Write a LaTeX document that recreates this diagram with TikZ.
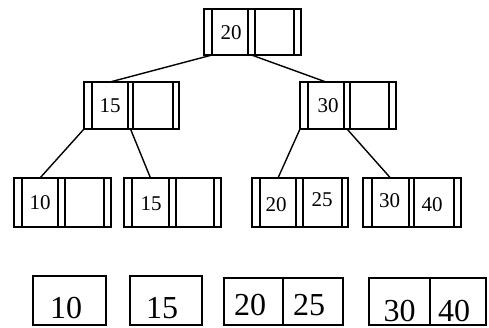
\documentclass[tikz,border=0pt]{standalone}
\usepackage{fontspec}
\setmainfont{Liberation Serif}
\newcommand\cellbox[5]{\node[cell, minimum width={(#3-#2)*1pt}, minimum height={(#5-#4)*1pt}] (#1) at (#2,#4) {};}
\newcommand\bnode[9]{%
  \cellbox{#1-p0}{#2}{#3}{#8}{#9}%
  \cellbox{#1-k1}{#3}{#4}{#8}{#9}%
  \cellbox{#1-p1}{#4}{#5}{#8}{#9}%
  \cellbox{#1-k2}{#5}{#6}{#8}{#9}%
  \cellbox{#1-p2}{#6}{#7}{#8}{#9}}
\begin{document}
\begin{tikzpicture}[x=1pt,y=-1pt,
  cell/.style={draw, line width=1.5pt, inner sep=0pt, outer sep=0pt, anchor=north west},
  link/.style={line width=1.4pt},
  key/.style={inner sep=0pt, font=\fontsize{21}{21}\selectfont},
  bigkey/.style={inner sep=0pt, font=\fontsize{32}{32}\selectfont}]
\useasboundingbox (0,0) rectangle (489,327);

% internal and leaf nodes
\bnode{root}{204}{212}{248}{255}{294}{301}{9}{55}
\bnode{na}{84}{92}{128}{133}{173}{179}{82}{129}
\bnode{nb}{300}{308}{344}{350}{389}{396}{82}{129}
\bnode{la}{14}{22}{58}{65}{104}{111}{178}{227}
\bnode{lb}{124}{132}{169}{176}{214}{221}{178}{227}
\bnode{lc}{252}{260}{296}{303}{342}{348}{178}{227}
\bnode{ld}{363}{372}{409}{414}{454}{461}{178}{227}

% keys
\node[key] (t-root) at (231,33) {20};
\node[key] (t-na) at (110,105.5) {15};
\node[key] (t-nb) at (328,106) {30};
\node[key] (t-la) at (40,202.5) {10};
\node[key] (t-lb) at (151,204) {15};
\node[key] (t-lc1) at (276,204.5) {20};
\node[key] (t-lc2) at (322,199.5) {25};
\node[key] (t-ld1) at (389.5,200.5) {30};
\node[key] (t-ld2) at (432,205) {40};

% connectors
\draw[link] (root-p0.south east) -- (na-k1.north);
\draw[link] (root-p1.south) -- (nb-k1.north);
\draw[link] (na-p0.south west) -- (la-k1.north);
\draw[link] (na-p1.south) -- (lb-k1.north);
\draw[link] (nb-p0.south west) -- (lc-k1.north);
\draw[link] (nb-p1.south) -- (ld-k1.north);

% bottom row of key boxes
\cellbox{ba}{33}{106}{276}{325}
\cellbox{bb}{130}{202}{276}{325}
\cellbox{bc1}{224}{283}{278}{325}
\cellbox{bc2}{283}{343}{278}{325}
\cellbox{bd1}{369}{430}{278}{325}
\cellbox{bd2}{430}{486}{278}{325}
\node[bigkey] (s-a) at (66,308) {10};
\node[bigkey] (s-b) at (162,308) {15};
\node[bigkey] (s-c1) at (250,305) {20};
\node[bigkey] (s-c2) at (309,305) {25};
\node[bigkey] (s-d1) at (399.5,311) {30};
\node[bigkey] (s-d2) at (454,311) {40};
\end{tikzpicture}
\end{document}
